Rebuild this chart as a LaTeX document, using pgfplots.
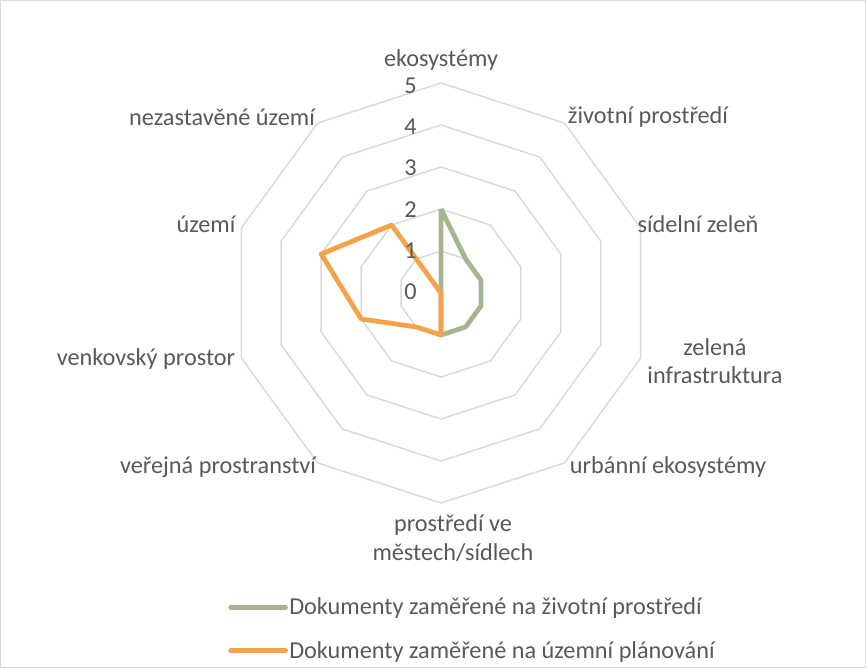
\documentclass[border=0pt]{standalone}
\usepackage{pgfplots}
\pgfplotsset{compat=1.18}
\usepgfplotslibrary{polar}
\usepackage{fontspec}
\setmainfont{Carlito}
\definecolor{txt}{HTML}{595959}
\definecolor{gridc}{HTML}{D9D9D9}
\definecolor{grn}{HTML}{A5B592}
\definecolor{orn}{HTML}{F5A34A}
\begin{document}
\begin{tikzpicture}
\begin{polaraxis}[
  scale only axis, width=315pt, height=315pt,
  ymin=0, ymax=5, hide axis, clip=false,
  legend style={at={(-0.007,-0.222)}, anchor=north west, draw=none, fill=none,
    inner sep=0pt, row sep=16.5pt, font=\fontsize{18.2}{21.5}\selectfont, text=txt,
    cells={anchor=west}, nodes={inner sep=1pt}},
  legend image code/.code={\draw[#1, line width=3.7pt, line cap=round] (0pt,0pt) -- (41pt,0pt);},
]
\addplot[gridc, line width=1.1pt, forget plot] coordinates {(90,1)(54,1)(18,1)(342,1)(306,1)(270,1)(234,1)(198,1)(162,1)(126,1)(90,1)};
\addplot[gridc, line width=1.1pt, forget plot] coordinates {(90,2)(54,2)(18,2)(342,2)(306,2)(270,2)(234,2)(198,2)(162,2)(126,2)(90,2)};
\addplot[gridc, line width=1.1pt, forget plot] coordinates {(90,3)(54,3)(18,3)(342,3)(306,3)(270,3)(234,3)(198,3)(162,3)(126,3)(90,3)};
\addplot[gridc, line width=1.1pt, forget plot] coordinates {(90,4)(54,4)(18,4)(342,4)(306,4)(270,4)(234,4)(198,4)(162,4)(126,4)(90,4)};
\addplot[gridc, line width=1.1pt, forget plot] coordinates {(90,5)(54,5)(18,5)(342,5)(306,5)(270,5)(234,5)(198,5)(162,5)(126,5)(90,5)};
\addplot[grn, line width=3.6pt, line join=round] coordinates {(90,2)(54,1)(18,1)(342,1)(306,1)(270,1)(234,0)(198,0)(162,0)(126,0)(90,2)};
\addlegendentry{Dokumenty zaměřené na životní prostředí}
\addplot[orn, line width=3.6pt, line join=round] coordinates {(90,0)(54,0)(18,0)(342,0)(306,0)(270,1)(234,1)(198,2)(162,3)(126,2)(90,0)};
\addlegendentry{Dokumenty zaměřené na územní plánování}
\coordinate (O) at (axis cs:0,0);
\end{polaraxis}
\begin{scope}[shift={(O)}, x=0.75pt, y=-0.75pt, font=\fontsize{18.2}{21.5}\selectfont, text=txt]
\draw[gridc, line width=0.75pt] (-440.5,-292.5) rectangle (424.5,374.5);
\foreach \k in {0,...,5} {\node[anchor=east, inner sep=0pt] at (-24,{-1-41.3*\k}) {\k};}
\node at (0,-233) {ekosystémy};
\node at (207,-176) {životní prostředí};
\node at (257,-69) {sídelní zeleň};
\node[align=center] at (274,68) {zelená\\infrastruktura};
\node at (227,174) {urbánní ekosystémy};
\node[align=center] at (12,245) {prostředí ve\\městech/sídlech};
\node at (-223,174) {veřejná prostranství};
\node at (-295,66) {venkovský prostor};
\node at (-235,-69) {území};
\node at (-219,-176) {nezastavěné území};
\end{scope}
\end{tikzpicture}
\end{document}
